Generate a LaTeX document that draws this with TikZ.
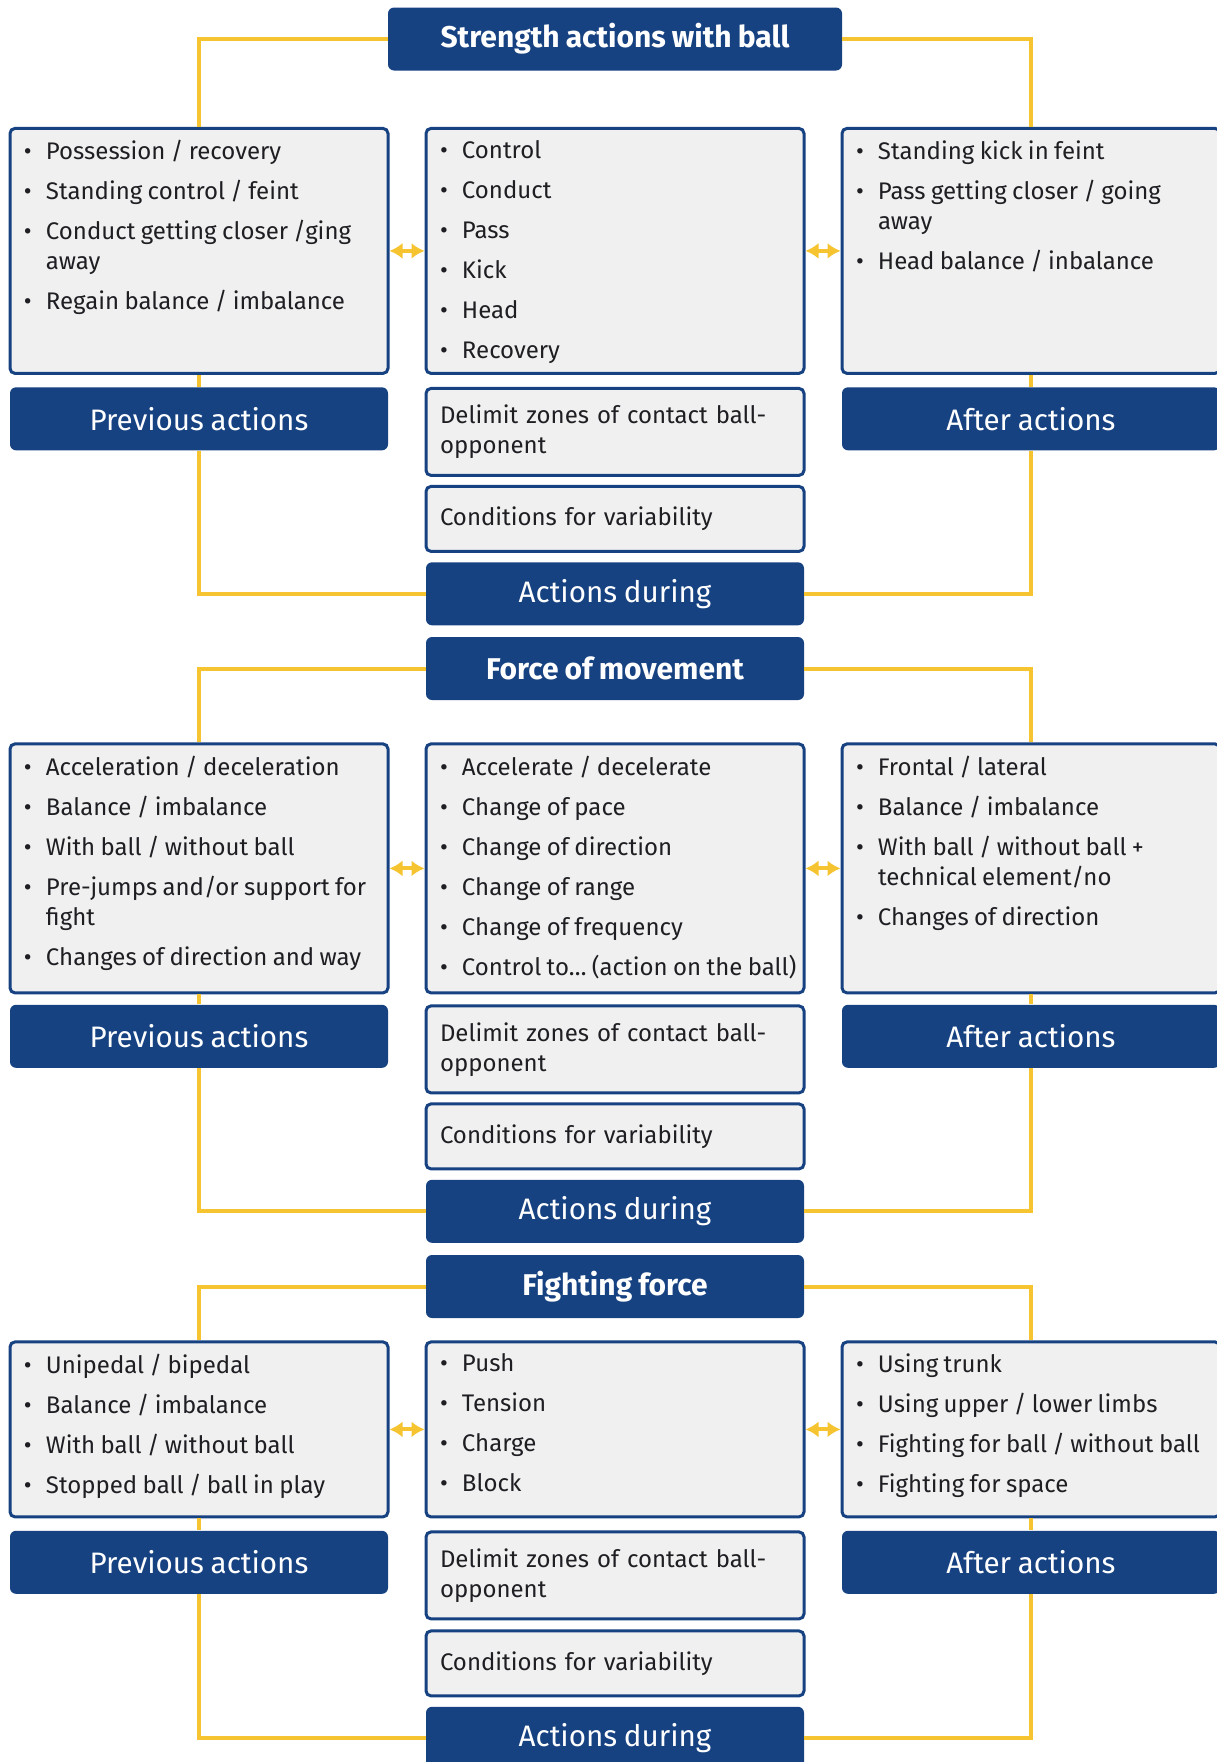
\documentclass[tikz,border=0pt]{standalone}
\usepackage{fontspec}
\setmainfont{Fira Sans}[WordSpace=0.85]
\usepackage{xcolor}
\usetikzlibrary{positioning,arrows.meta}

\definecolor{navy}{RGB}{23,66,130}
\definecolor{gold}{RGB}{245,196,48}
\definecolor{paper}{RGB}{240,240,240}
\definecolor{ink}{RGB}{30,30,35}

\newcommand{\itm}[1]{\par\noindent\hangindent=11pt\hangafter=1\makebox[11pt][l]{\textbullet}#1}
\newcommand{\itemlist}[2]{\begin{minipage}[t][#1][t]{175pt}\raggedright\setlength{\parskip}{5pt}#2\end{minipage}}

\begin{document}
\begin{tikzpicture}[
  x=0.5pt, y=-0.5pt,
  font=\fontsize{12}{15}\selectfont,
  text=ink,
  listbox/.style={draw=navy, fill=paper, line width=1.5pt, rounded corners=2.5pt, inner xsep=7pt, inner ysep=6pt},
  notebox/.style={listbox, align=left, text width=175pt, minimum height=#1},
  bar/.style={fill=navy, text=white, rounded corners=3pt, minimum width=189pt, minimum height=31.5pt, inner sep=0pt, font=\fontsize{14.8}{18}\selectfont},
  headbar/.style={bar, font=\fontsize{15}{18}\selectfont\bfseries},
  link/.style={draw=gold, line width=2pt},
  twoway/.style={{Latex[length=6.5pt,width=8pt]}-{Latex[length=6.5pt,width=8pt]}, draw=gold, line width=2pt}
]
\useasboundingbox (0,0) rectangle (1216,1762);

\node[headbar, minimum width=227pt] (sbtitle) at (615,39) {Strength actions with ball};
\node[listbox, below=28pt of sbtitle] (sbmid) {\itemlist{110.5pt}{\itm{Control}\itm{Conduct}\itm{Pass}\itm{Kick}\itm{Head}\itm{Recovery}}};
\node[listbox, left=17.5pt of sbmid] (sbleft) {\itemlist{110.5pt}{\itm{Possession / recovery}\itm{Standing control / feint}\itm{Conduct getting closer /ging\newline away}\itm{Regain balance / imbalance}}};
\node[listbox, right=17.5pt of sbmid] (sbright) {\itemlist{110.5pt}{\itm{Standing kick in feint}\itm{Pass getting closer / going\newline away}\itm{Head balance / inbalance}}};
\node[bar, below=6pt of sbleft] (sbprev) {Previous actions};
\node[bar, below=6pt of sbright] (sbafter) {After actions};
\node[notebox=43.5pt, below=6pt of sbmid] (sbzones) {Delimit zones of contact ball-\\opponent};
\node[notebox=32.5pt, below=4pt of sbzones] (sbvary) {Conditions for variability};
\node[bar, below=4.5pt of sbvary] (sbduring) {Actions during};
\draw[link] (sbtitle.west) -| (sbleft.north);
\draw[link] (sbtitle.east) -| (sbright.north);
\draw[link] (sbleft.south) -- (sbprev.north);
\draw[link] (sbright.south) -- (sbafter.north);
\draw[link] (sbprev.south) |- (sbduring.west);
\draw[link] (sbafter.south) |- (sbduring.east);
\draw[twoway] (sbleft.east) -- (sbmid.west);
\draw[twoway] (sbmid.east) -- (sbright.west);

\node[headbar] (fmtitle) at (615,668.5) {Force of movement};
\node[listbox, below=21pt of fmtitle] (fmmid) {\itemlist{112.5pt}{\itm{Accelerate / decelerate}\itm{Change of pace}\itm{Change of direction}\itm{Change of range}\itm{Change of frequency}\itm{\mbox{Control to… (action on the ball)}}}};
\node[listbox, left=17.5pt of fmmid] (fmleft) {\itemlist{112.5pt}{\itm{Acceleration / deceleration}\itm{Balance / imbalance}\itm{With ball / without ball}\itm{Pre-jumps and/or support for\newline fight}\itm{Changes of direction and way}}};
\node[listbox, right=17.5pt of fmmid] (fmright) {\itemlist{112.5pt}{\itm{Frontal / lateral}\itm{Balance / imbalance}\itm{With ball / without ball +\newline technical element/no}\itm{Changes of direction}}};
\node[bar, below=5pt of fmleft] (fmprev) {Previous actions};
\node[bar, below=5pt of fmright] (fmafter) {After actions};
\node[notebox=43.5pt, below=5pt of fmmid] (fmzones) {Delimit zones of contact ball-\\opponent};
\node[notebox=32.5pt, below=4pt of fmzones] (fmvary) {Conditions for variability};
\node[bar, below=4.5pt of fmvary] (fmduring) {Actions during};
\draw[link] (fmtitle.west) -| (fmleft.north);
\draw[link] (fmtitle.east) -| (fmright.north);
\draw[link] (fmleft.south) -- (fmprev.north);
\draw[link] (fmright.south) -- (fmafter.north);
\draw[link] (fmprev.south) |- (fmduring.west);
\draw[link] (fmafter.south) |- (fmduring.east);
\draw[twoway] (fmleft.east) -- (fmmid.west);
\draw[twoway] (fmmid.east) -- (fmright.west);

\node[headbar] (fftitle) at (615,1286.5) {Fighting force};
\node[listbox, below=11pt of fftitle] (ffmid) {\itemlist{75.5pt}{\itm{Push}\itm{Tension}\itm{Charge}\itm{Block}}};
\node[listbox, left=17.5pt of ffmid] (ffleft) {\itemlist{75.5pt}{\itm{Unipedal / bipedal}\itm{Balance / imbalance}\itm{With ball / without ball}\itm{Stopped ball / ball in play}}};
\node[listbox, right=17.5pt of ffmid] (ffright) {\itemlist{75.5pt}{\itm{Using trunk}\itm{Using upper / lower limbs}\itm{\mbox{Fighting for ball / without ball}}\itm{Fighting for space}}};
\node[bar, below=6pt of ffleft] (ffprev) {Previous actions};
\node[bar, below=6pt of ffright] (ffafter) {After actions};
\node[notebox=43.5pt, below=6pt of ffmid] (ffzones) {Delimit zones of contact ball-\\opponent};
\node[notebox=32.5pt, below=4.5pt of ffzones] (ffvary) {Conditions for variability};
\node[bar, below=4.5pt of ffvary] (ffduring) {Actions during};
\draw[link] (fftitle.west) -| (ffleft.north);
\draw[link] (fftitle.east) -| (ffright.north);
\draw[link] (ffleft.south) -- (ffprev.north);
\draw[link] (ffright.south) -- (ffafter.north);
\draw[link] (ffprev.south) |- (ffduring.west);
\draw[link] (ffafter.south) |- (ffduring.east);
\draw[twoway] (ffleft.east) -- (ffmid.west);
\draw[twoway] (ffmid.east) -- (ffright.west);
\end{tikzpicture}
\end{document}
